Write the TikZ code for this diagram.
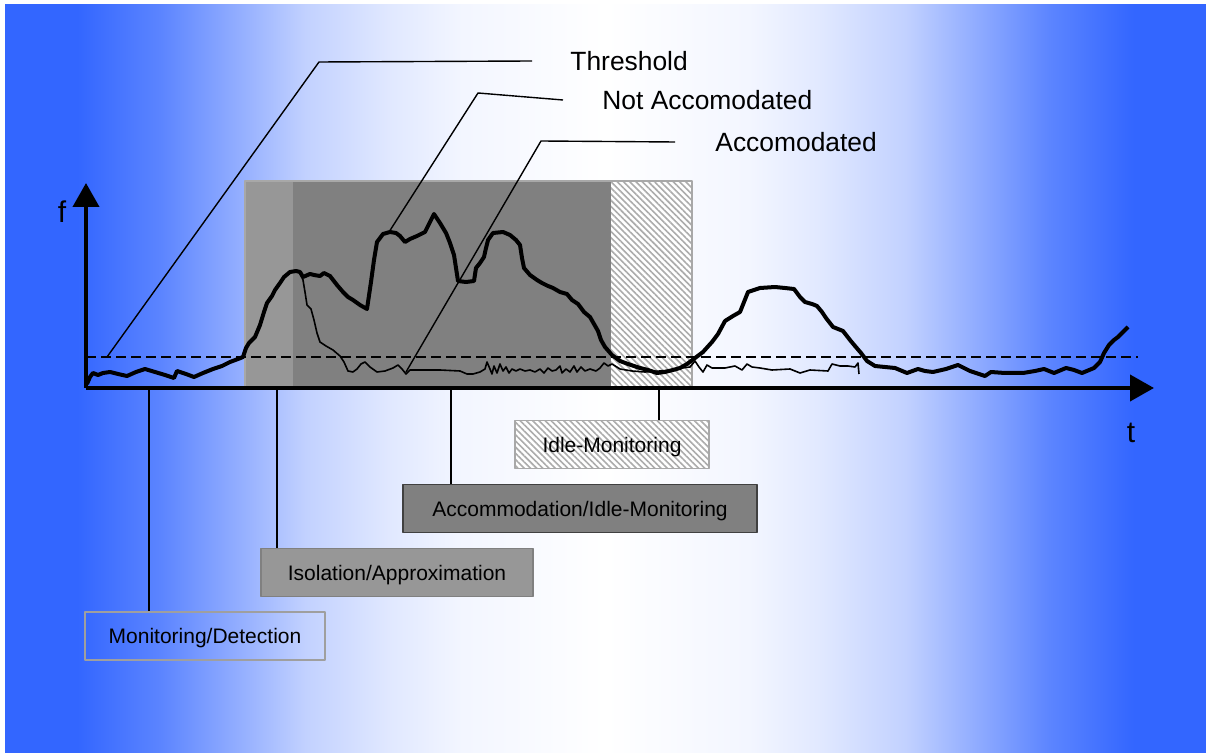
\documentclass[tikz,border=0pt]{standalone}
\usepackage{fontspec}
\setmainfont{Liberation Sans}
\usetikzlibrary{arrows.meta,patterns.meta,positioning}
\definecolor{bgblue}{RGB}{51,102,255}
\definecolor{isogray}{RGB}{151,151,151}
\definecolor{accgray}{RGB}{128,128,128}
\definecolor{rimgray}{RGB}{168,168,168}
\pgfdeclarehorizontalshading{bgfade}{100bp}{color(0bp)=(bgblue); color(28bp)=(bgblue); color(31.5bp)=(bgblue!80!white); color(34.5bp)=(bgblue!55!white); color(37.5bp)=(bgblue!30!white); color(41bp)=(bgblue!15!white); color(44bp)=(bgblue!6!white); color(50bp)=(white); color(56bp)=(bgblue!6!white); color(59bp)=(bgblue!15!white); color(62.5bp)=(bgblue!30!white); color(65.5bp)=(bgblue!55!white); color(68.5bp)=(bgblue!80!white); color(72bp)=(bgblue); color(100bp)=(bgblue)}

\begin{document}
\begin{tikzpicture}[x=0.5pt, y=-0.5pt, line join=round,
   axis/.style={line width=2pt, -{Triangle[length=12pt,width=13pt]}},
   signal/.style={line width=2pt},
   residual/.style={line width=0.8pt},
   leader/.style={line width=0.7pt},
   callout/.style={anchor=west, inner sep=0pt, font=\fontsize{13.2}{15}\selectfont},
   phase/.style={draw, line width=0.9pt, minimum width=#1, minimum height=24pt, inner sep=0pt, text depth=0pt, font=\fontsize{10.5}{12}\selectfont},
   hatch/.style={preaction={fill=white}, pattern={Lines[angle=-45,distance=2.2pt,line width=0.8pt]}, pattern color=gray!65}]
   \useasboundingbox (0,0) rectangle (1206,753);
   \fill[white] (0,0) rectangle (1206,753);
   \shade[shading=bgfade] (5,5) rectangle (1206,753);
   % phase regions
   \fill[isogray] (245,181) rectangle (293,388);
   \fill[accgray] (293,181) rectangle (611,388);
   \path[hatch] (611,181) rectangle (692,388);
   \draw[rimgray, line width=1pt] (245,181) rectangle (692,388);
   % threshold
   \draw[line width=0.7pt, dash pattern=on 5pt off 2.5pt] (86,357) -- (1138,357);
   % accommodated signal
   \draw[residual] plot coordinates {(300,273)(303,280)(305,292)(307,305)(311,309)(314,320)(317,333)(320,342)(326,346)(333,350)(340,356)(344,362)(348,371)(353,372)(357,369)(361,364)(365,362)(370,367)(377,372)(385,371)(393,368)(398,365)(402,369)(406,374)(410,370)(420,370)(440,370)(460,371)(467,374)(473,374)(480,372)(485,369)(487,362)(490,369)(492,374)(494,366)(497,373)(500,364)(503,371)(506,367)(509,373)(512,369)(516,371)(520,369)(525,371)(530,370)(535,372)(540,369)(544,373)(548,368)(552,371)(556,370)(560,366)(562,373)(566,369)(570,372)(574,366)(577,372)(581,367)(585,371)(590,369)(596,371)(600,368)(604,363)(608,366)(612,364)(620,369)(632,371)(645,372)(660,371)(672,370)(682,368)(690,367)(695,361)(699,367)(703,372)(707,365)(712,368)(725,368)(735,366)(742,370)(747,364)(752,367)(760,368)(772,370)(790,369)(800,373)(810,370)(828,371)(832,364)(840,366)(848,366)(855,367)(858,363)(859,374)};
   % not accommodated signal
   \draw[signal] plot coordinates {(87,384)(90,377)(93,373)(98,375)(103,373)(110,372)(118,374)(127,376)(136,372)(145,369)(155,372)(165,375)(174,378)(177,371)(186,374)(194,377)(203,373)(213,369)(222,366)(230,362)(238,359)(243,357)(246,348)(249,343)(255,337)(260,325)(264,312)(267,303)(272,296)(275,290)(280,283)(284,277)(290,272)(296,271)(300,272)(303,277)(310,274)(314,275)(320,276)(324,273)(330,276)(337,285)(343,292)(348,297)(353,300)(360,305)(367,309)(371,282)(374,260)(377,242)(383,234)(390,232)(396,233)(400,236)(405,242)(410,239)(417,236)(425,232)(428,226)(430,222)(434,214)(440,223)(446,233)(450,243)(454,255)(458,281)(466,282)(474,281)(476,268)(480,263)(484,257)(486,248)(488,240)(493,233)(503,232)(510,235)(516,240)(520,245)(522,258)(524,268)(530,275)(537,280)(542,283)(548,286)(553,288)(560,292)(567,294)(572,300)(578,304)(584,312)(590,317)(594,324)(598,331)(601,340)(605,347)(612,355)(620,361)(628,364)(640,368)(648,370)(657,373)(665,372)(673,370)(680,368)(687,364)(695,358)(703,352)(712,342)(718,334)(725,321)(733,316)(740,312)(744,302)(748,292)(760,288)(775,287)(785,288)(794,289)(800,297)(805,302)(812,304)(817,306)(822,312)(826,318)(833,327)(843,331)(850,340)(855,346)(861,353)(867,361)(875,366)(885,367)(895,368)(907,373)(918,369)(925,371)(933,372)(946,369)(958,365)(970,371)(985,376)(991,372)(1005,373)(1023,373)(1035,371)(1044,369)(1054,373)(1066,368)(1074,370)(1082,373)(1094,368)(1100,362)(1104,353)(1109,345)(1114,340)(1118,337)(1122,333)(1128,327)};
   % axes
   \coordinate (o) at (86,388);
   \draw[axis] (o) -- (86,183);
   \draw[axis] (o) -- (1154,388);
   \node[font=\fontsize{15}{18}\selectfont] (flab) at (62,212) {f};
   \node[font=\fontsize{15}{18}\selectfont] (tlab) at (1131,433) {t};
   % callouts
   \coordinate (thrfoot) at (107,357);
   \coordinate (nacfoot) at (389,232);
   \coordinate (accfoot) at (406,372);
   \node[callout] (thr) at (570,61) {Threshold};
   \node[callout] (nac) at (602,100) {Not Accomodated};
   \node[callout] (acd) at (715,142) {Accomodated};
   \draw[leader] (thrfoot) -- (319,62) -- ([xshift=-19pt]thr.west);
   \draw[leader] (nacfoot) -- (478,93) -- ([xshift=-19.5pt]nac.west);
   \draw[leader] (accfoot) -- (541,141) -- ([xshift=-20pt]acd.west);
   % phase labels
   \node[phase=120pt, draw=gray!75] (mon) at (205,636) {Monitoring/Detection};
   \node[phase=136pt, fill=isogray, draw=gray] (iso) at (397,572.5) {Isolation/Approximation};
   \node[phase=177pt, fill=accgray, draw=darkgray] (acm) at (580,508.5) {Accommodation/Idle-Monitoring};
   \node[phase=97pt, draw=rimgray, hatch] (idle) at (612,444.5) {Idle-Monitoring};
   \coordinate (montick) at (149,388);
   \coordinate (isotick) at (277,388);
   \coordinate (acmtick) at (451,388);
   \coordinate (idletick) at (659,388);
   \draw[leader] (montick) -- (montick |- mon.north);
   \draw[leader] (isotick) -- (isotick |- iso.north);
   \draw[leader] (acmtick) -- (acmtick |- acm.north);
   \draw[leader] (idletick) -- (idletick |- idle.north);
\end{tikzpicture}
\end{document}
